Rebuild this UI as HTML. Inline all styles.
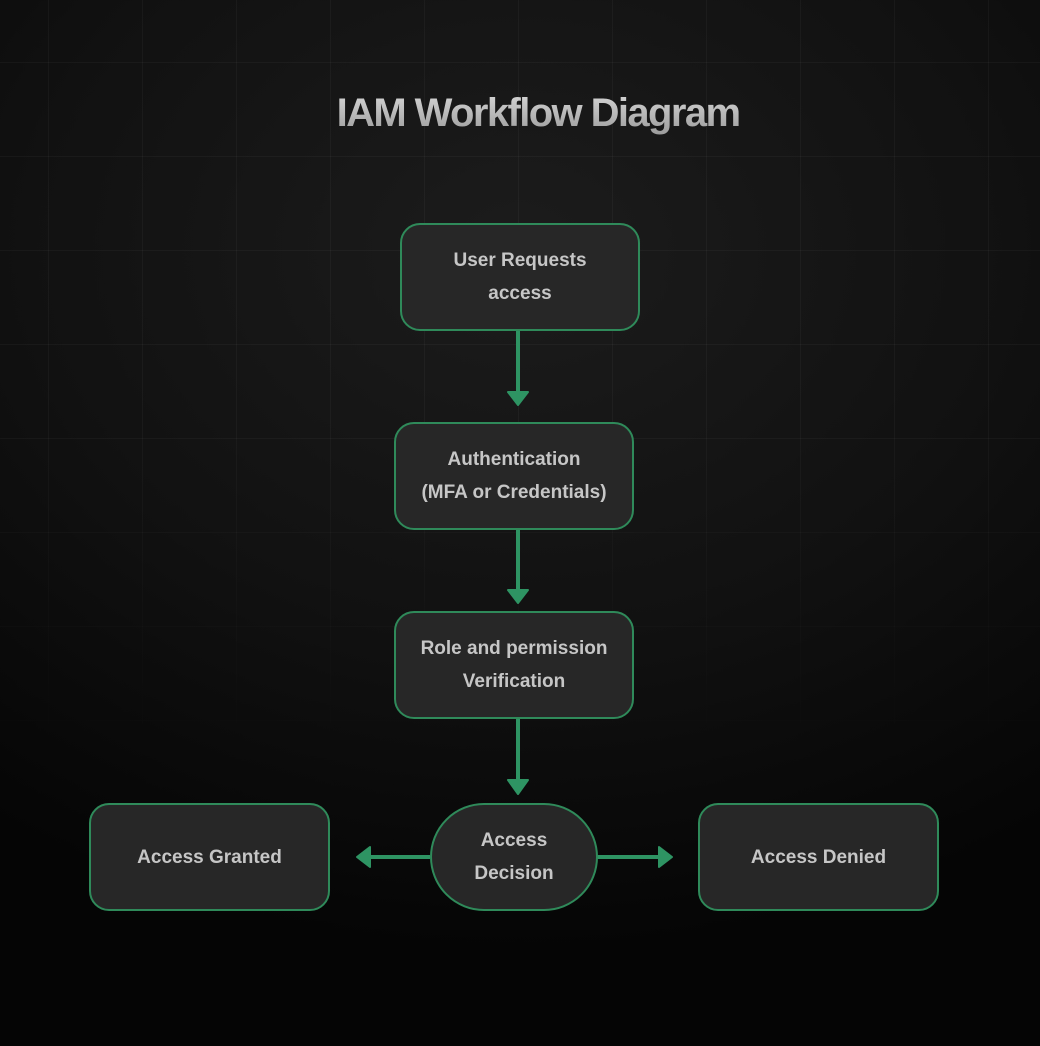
<!DOCTYPE html>
<html><head><style>
html,body{margin:0;padding:0}
body{width:1040px;height:1046px;overflow:hidden;font-family:"Liberation Sans",sans-serif;
background:radial-gradient(ellipse 900px 700px at 520px 250px,#1c1c1c 0%,#111 55%,#050505 100%);position:relative}
.grid{position:absolute;inset:0;
background-image:linear-gradient(to right,rgba(255,255,255,0.035) 1px,transparent 1px),linear-gradient(to bottom,rgba(255,255,255,0.035) 1px,transparent 1px);
background-size:94px 94px;background-position:48px 62px;
-webkit-mask-image:linear-gradient(to bottom,#000 0%,#000 40%,transparent 75%);mask-image:linear-gradient(to bottom,#000 0%,#000 40%,transparent 75%)}
h1{position:absolute;left:0;width:1076px;top:91px;margin:0;text-align:center;font-size:40px;font-weight:bold;letter-spacing:-1.6px;
color:#bdbdbd;background:linear-gradient(#d8d8d8,#9a9a9a);-webkit-background-clip:text;background-clip:text;-webkit-text-fill-color:transparent}
.n{position:absolute;box-sizing:border-box;background:#272727;border:2px solid #2f8a5a;border-radius:20px;display:flex;align-items:center;justify-content:center;text-align:center;
color:#c6c6c6;font-size:19px;font-weight:bold;line-height:33px}
svg{position:absolute;left:0;top:0}
</style></head><body>
<div class="grid"></div>
<h1>IAM Workflow Diagram</h1>
<svg width="1040" height="1046">
<g stroke="#2e9463" stroke-width="4" fill="#2e9463">
<line x1="518" y1="330" x2="518" y2="394"/>
<line x1="518" y1="529" x2="518" y2="592"/>
<line x1="518" y1="718" x2="518" y2="782"/>
<line x1="430" y1="857" x2="370" y2="857"/>
<line x1="597" y1="857" x2="660" y2="857"/>
</g>
<g fill="#2e9463" stroke="#2e9463" stroke-width="2" stroke-linejoin="round">
<polygon points="508,392 528,392 518,405"/>
<polygon points="508,590 528,590 518,603"/>
<polygon points="508,780 528,780 518,794"/>
<polygon points="370,847 370,867 357,857"/>
<polygon points="659,847 659,867 672,857"/>
</g>
</svg>
<div class="n" style="left:400px;top:223px;width:240px;height:108px">User Requests<br>access</div>
<div class="n" style="left:394px;top:422px;width:240px;height:108px">Authentication<br>(MFA or Credentials)</div>
<div class="n" style="left:394px;top:611px;width:240px;height:108px">Role and permission<br>Verification</div>
<div class="n" style="left:430px;top:803px;width:168px;height:108px;border-radius:54px">Access<br>Decision</div>
<div class="n" style="left:89px;top:803px;width:241px;height:108px">Access Granted</div>
<div class="n" style="left:698px;top:803px;width:241px;height:108px">Access Denied</div>
</body></html>
